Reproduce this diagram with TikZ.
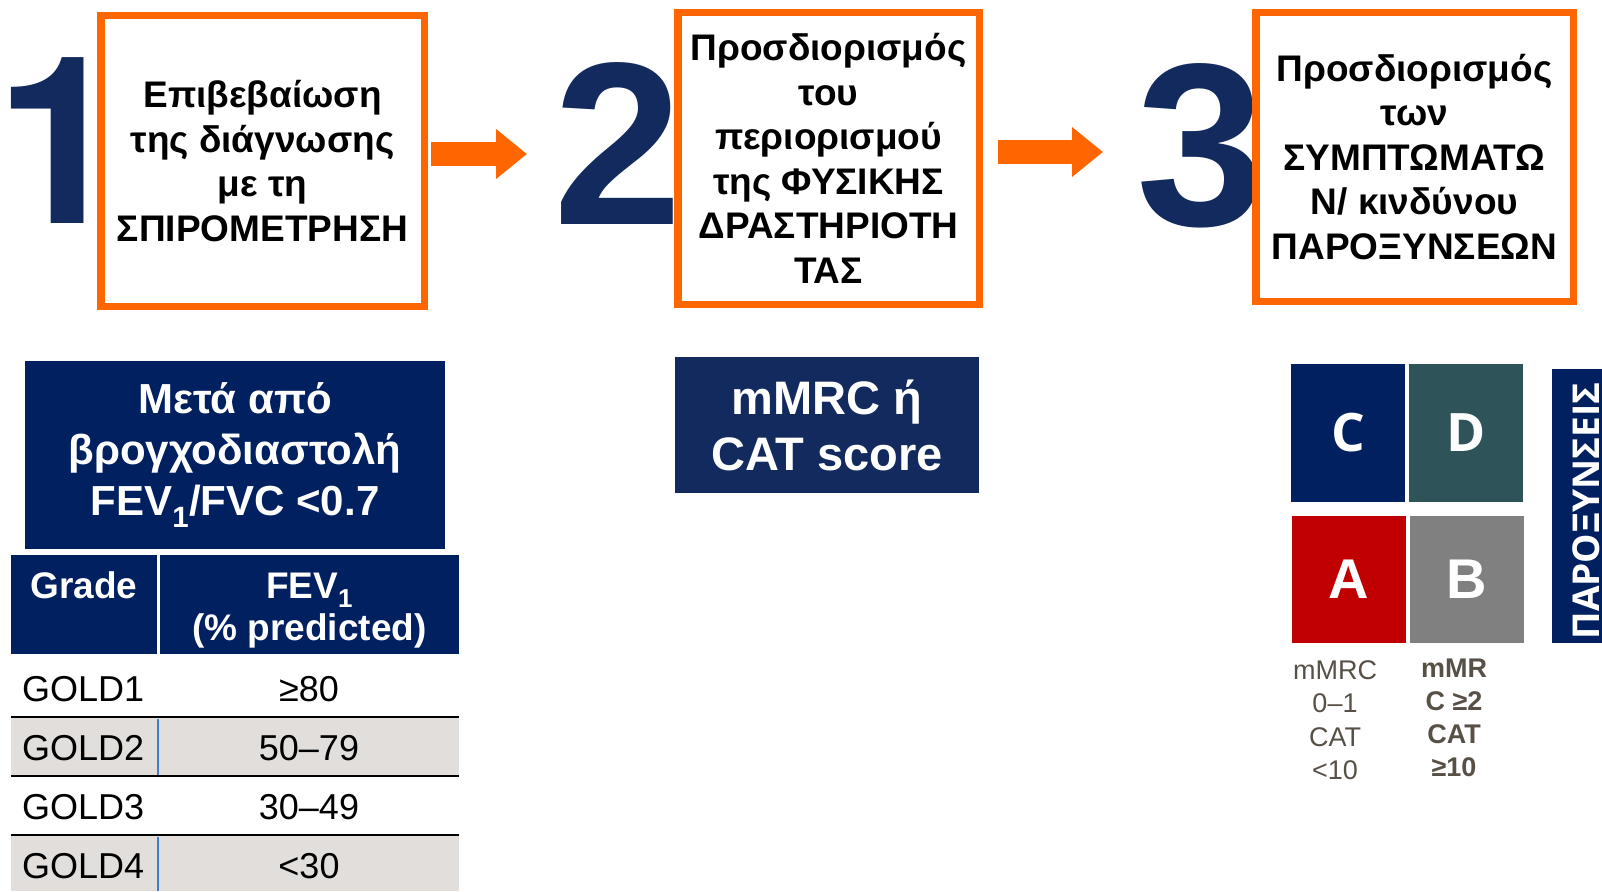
\documentclass[tikz,border=0pt]{standalone}
\usepackage{fontspec}
\setmainfont{Liberation Sans}
\newfontfamily\osans{Open Sans}
\newfontfamily\heros{TeX Gyre Heros}
\usetikzlibrary{arrows.meta}
\definecolor{orng}{HTML}{FF6600}
\definecolor{navy}{HTML}{002060}
\definecolor{navyb}{HTML}{132A5E}
\definecolor{dteal}{HTML}{2E5459}
\definecolor{dred}{HTML}{C00000}
\definecolor{mgrey}{HTML}{808080}
\definecolor{rowgrey}{HTML}{E1DEDB}
\definecolor{lblue}{HTML}{3F7FCC}
\definecolor{txtgrey}{HTML}{575046}
\tikzset{
  obox/.style={draw=orng, line width=7.5pt, fill=white, inner sep=0pt, outer sep=0pt, align=center,
    font=\bfseries\fontsize{37}{44.5}\selectfont},
  num/.style={text=navyb, font=\bfseries\fontsize{232}{232}\selectfont, inner sep=0pt, anchor=base},
  nbox/.style={fill=navy, text=white, inner sep=0pt, outer sep=0pt, align=center},
  oarrow/.style={draw=orng, line width=24pt, -{Triangle[width=48pt,length=31pt]}},
  hdr/.style={fill=navy, inner sep=0pt, outer sep=0pt},
  htxt/.style={text=white, inner sep=0pt, anchor=base, font=\bfseries\fontsize{37}{42}\selectfont},
  cell/.style={inner sep=0pt, font=\fontsize{36}{40}\selectfont},
  sq/.style={inner sep=0pt, outer sep=0pt, text=white},
  lab/.style={inner sep=0pt, text=txtgrey, align=center},
}
\begin{document}
\begin{tikzpicture}[x=1pt,y=-1pt]
\useasboundingbox (0,0) rectangle (1602,891);

% big step numbers
\node[num, font=\heros\bfseries\fontsize{234}{234}\selectfont] (n1) at (61,223) {1};
\node[num] (n2) at (618.5,224) {2};
\node[num] (n3) at (1201,225) {3};

% orange boxes
\node[obox, minimum width=323.5pt, minimum height=290.5pt] (b1) at (262.5,161)
  {Επιβεβαίωση\\της διάγνωσης\\με τη\\ΣΠΙΡΟΜΕΤΡΗΣΗ};
\node[obox, minimum width=301.5pt, minimum height=291.5pt] (b2) at (828.5,158.5)
  {Προσδιορισμός\\του\\περιορισμού\\της ΦΥΣΙΚΗΣ\\ΔΡΑΣΤΗΡΙΟΤΗ\\ΤΑΣ};
\node[obox, minimum width=317.5pt, minimum height=288.5pt] (b3) at (1414.5,157)
  {Προσδιορισμός\\των\\ΣΥΜΠΤΩΜΑΤΩ\\Ν/ κινδύνου\\ΠΑΡΟΞΥΝΣΕΩΝ};

% arrows
\coordinate (a1s) at (431,154);
\coordinate (a1e) at (527,154);
\coordinate (a2s) at (998,152);
\coordinate (a2e) at (1103,152);
\draw[oarrow] (a1s) -- (a1e);
\draw[oarrow] (a2s) -- (a2e);

% navy boxes
\node[nbox, minimum width=420pt, minimum height=188pt, font=\bfseries\fontsize{42}{51}\selectfont] (post) at (235,455)
  {Μετά από\\βρογχοδιαστολή\\FEV\textsubscript{1}/FVC <0.7};
\node[nbox, fill=navyb, minimum width=304pt, minimum height=136pt, font=\bfseries\fontsize{47}{56}\selectfont] (mm) at (827,425)
  {mMRC ή\\CAT score};

% table header
\node[hdr, minimum width=146pt, minimum height=99pt] (hg) at (84,604.5) {};
\node[hdr, minimum width=299pt, minimum height=99pt] (hf) at (309.5,604.5) {};
\node[htxt] (tg) at (84,598) {Grade};
\node[htxt] (tf1) at (309.5,598) {FEV\textsubscript{1}};
\node[htxt] (tf2) at (309.5,640) {(\% predicted)};

% table rows
\fill[rowgrey] (11,717) rectangle (459,776);
\fill[rowgrey] (11,835) rectangle (459,891);
\draw[lblue, line width=2pt] (158,718.5) -- (158,774.5);
\draw[lblue, line width=2pt] (158,836.5) -- (158,891);
\draw[line width=2.7pt] (11,717) -- (459,717);
\draw[line width=2.7pt] (11,776) -- (459,776);
\draw[line width=2.7pt] (11,835) -- (459,835);

\node[cell, anchor=base west] (g1) at (22,701) {GOLD1};
\node[cell, anchor=base] (v1) at (309,701) {≥80};
\node[cell, anchor=base west] (g2) at (22,760) {GOLD2};
\node[cell, anchor=base] (v2) at (309,760) {50–79};
\node[cell, anchor=base west] (g3) at (22,819) {GOLD3};
\node[cell, anchor=base] (v3) at (309,819) {30–49};
\node[cell, anchor=base west] (g4) at (22,878) {GOLD4};
\node[cell, anchor=base] (v4) at (309,878) {<30};

% ABCD grid
\node[sq, fill=navy, minimum width=114pt, minimum height=138pt, font=\osans\bfseries\fontsize{53}{53}\selectfont] (sc) at (1348,433) {C};
\node[sq, fill=dteal, minimum width=114pt, minimum height=138pt, font=\osans\bfseries\fontsize{53}{53}\selectfont] (sd) at (1466,433) {D};
\node[sq, fill=dred, minimum width=114pt, minimum height=127pt, font=\bfseries\fontsize{56}{56}\selectfont] (sa) at (1349,579.5) {A};
\node[sq, fill=mgrey, minimum width=114pt, minimum height=127pt, font=\bfseries\fontsize{56}{56}\selectfont] (sb) at (1467,579.5) {B};

% exacerbations bar
\node[hdr, minimum width=50pt, minimum height=274pt, anchor=north west] (ex) at (1552,369) {};
\node[rotate=90, anchor=base, inner sep=0pt, text=white, font=\osans\bfseries\fontsize{37}{37}\selectfont] (ext) at (1599,511) {ΠΑΡΟΞΥΝΣΕΙΣ};

% labels under grid
\node[lab, font=\fontsize{27}{33.5}\selectfont] (la) at (1335,720) {mMRC\\0–1\\CAT\\<10};
\node[lab, font=\bfseries\fontsize{27}{33}\selectfont] (lb) at (1454,718) {mMR\\C ≥2\\CAT\\≥10};
\end{tikzpicture}
\end{document}
